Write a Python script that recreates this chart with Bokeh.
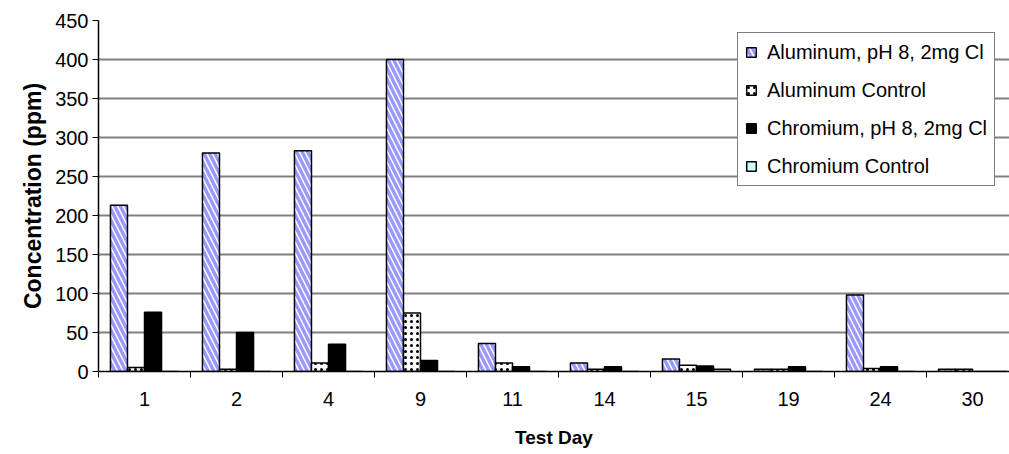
from bokeh.plotting import figure
from bokeh.models import ColumnDataSource, Range1d, FixedTicker, Legend, LegendItem
from bokeh.transform import dodge
from bokeh.embed import file_html
from bokeh.resources import INLINE

days = ["1", "2", "4", "9", "11", "14", "15", "19", "24", "30"]
al_ph8 = [213, 280, 283, 400, 36, 11, 16, 3, 98, 3]
al_control = [5, 3, 11, 75, 11, 3, 8, 3, 4, 3]
cr_ph8 = [76, 50, 35, 14, 6, 6, 7, 6, 6, 0]
cr_control = [0, 0, 0, 0, 0, 0, 3, 0, 0, 0]

series_names = ["Aluminum, pH 8, 2mg Cl", "Aluminum Control",
                "Chromium, pH 8, 2mg Cl", "Chromium Control"]

centers = [i + 0.5 for i in range(len(days))]
src = ColumnDataSource(dict(x=centers, al=al_ph8, alc=al_control, cr=cr_ph8, crc=cr_control))

FONT = "Liberation Sans"

p = figure(width=1009, height=454, output_backend="svg", toolbar_location=None,
           x_range=Range1d(0, 9.902), y_range=Range1d(0, 450),
           min_border_left=98, min_border_top=20, min_border_right=0, min_border_bottom=83)
p.outline_line_color = None
p.background_fill_color = "white"

bw = 0.185
offs = [-0.2775, -0.0925, 0.0925, 0.2775]

r1 = p.vbar(x=dodge("x", offs[0]), top="al", width=bw, source=src,
            fill_color="#9999FF", hatch_pattern="\\", hatch_color="white",
            hatch_weight=1.5, hatch_scale=11, line_color="black", line_width=1.5)
r2 = p.vbar(x=dodge("x", offs[1]), top="alc", width=bw, source=src,
            fill_color="white", hatch_pattern=".", hatch_color="black",
            hatch_weight=2.5, hatch_scale=6, line_color="black", line_width=1.5)
r3 = p.vbar(x=dodge("x", offs[2]), top="cr", width=bw, source=src,
            fill_color="black", line_color="black", line_width=1.5)
r4 = p.vbar(x=dodge("x", offs[3]), top="crc", width=bw, source=src,
            fill_color="#CCFFFF", line_color="black", line_width=1.5)

# axes
p.xaxis.ticker = FixedTicker(ticks=centers, minor_ticks=list(range(len(days) + 1)))
p.xaxis.major_label_overrides = {c: d for c, d in zip(centers, days)}
p.xaxis.major_tick_out = 0
p.xaxis.major_tick_in = 0
p.xaxis.minor_tick_out = 6
p.xaxis.minor_tick_in = 0
p.xaxis.minor_tick_line_color = "black"
p.xaxis.axis_line_color = "black"
p.xaxis.axis_line_width = 1.5
p.xaxis.major_label_standoff = 14
p.xaxis.axis_label = "Test Day"
p.xaxis.axis_label_standoff = 18

p.yaxis.ticker = FixedTicker(ticks=list(range(0, 451, 50)))
p.yaxis.major_tick_out = 6
p.yaxis.major_tick_in = 0
p.yaxis.minor_tick_line_color = None
p.yaxis.axis_line_color = "black"
p.yaxis.axis_line_width = 1.5
p.yaxis.major_label_standoff = 4
p.yaxis.axis_label = "Concentration (ppm)"
p.yaxis.axis_label_standoff = 6

for ax in (p.xaxis, p.yaxis):
    ax.major_label_text_font = FONT
    ax.major_label_text_font_size = "20px"
    ax.major_label_text_color = "black"
    ax.axis_label_text_font = FONT
    ax.axis_label_text_font_style = "bold"
    ax.axis_label_text_color = "black"
p.xaxis.axis_label_text_font_size = "19px"
p.yaxis.axis_label_text_font_size = "23px"

p.xgrid.grid_line_color = None
p.ygrid.ticker = FixedTicker(ticks=list(range(50, 451, 50)))
p.ygrid.grid_line_color = "#808080"
p.ygrid.grid_line_width = 2

legend = Legend(items=[LegendItem(label=n, renderers=[r]) for n, r in zip(series_names, [r1, r2, r3, r4])],
                location=(639, 185))
legend.label_text_font = FONT
legend.label_text_font_size = "20px"
legend.label_text_color = "black"
legend.glyph_width = 12
legend.glyph_height = 12
legend.label_standoff = 10
legend.label_height = 24
legend.spacing = 14
legend.padding = 7
legend.margin = 0
legend.border_line_color = "black"
legend.border_line_width = 1
legend.background_fill_color = "white"
legend.background_fill_alpha = 1
p.add_layout(legend, "center")

open("out.html", "w").write(file_html(p, INLINE))
